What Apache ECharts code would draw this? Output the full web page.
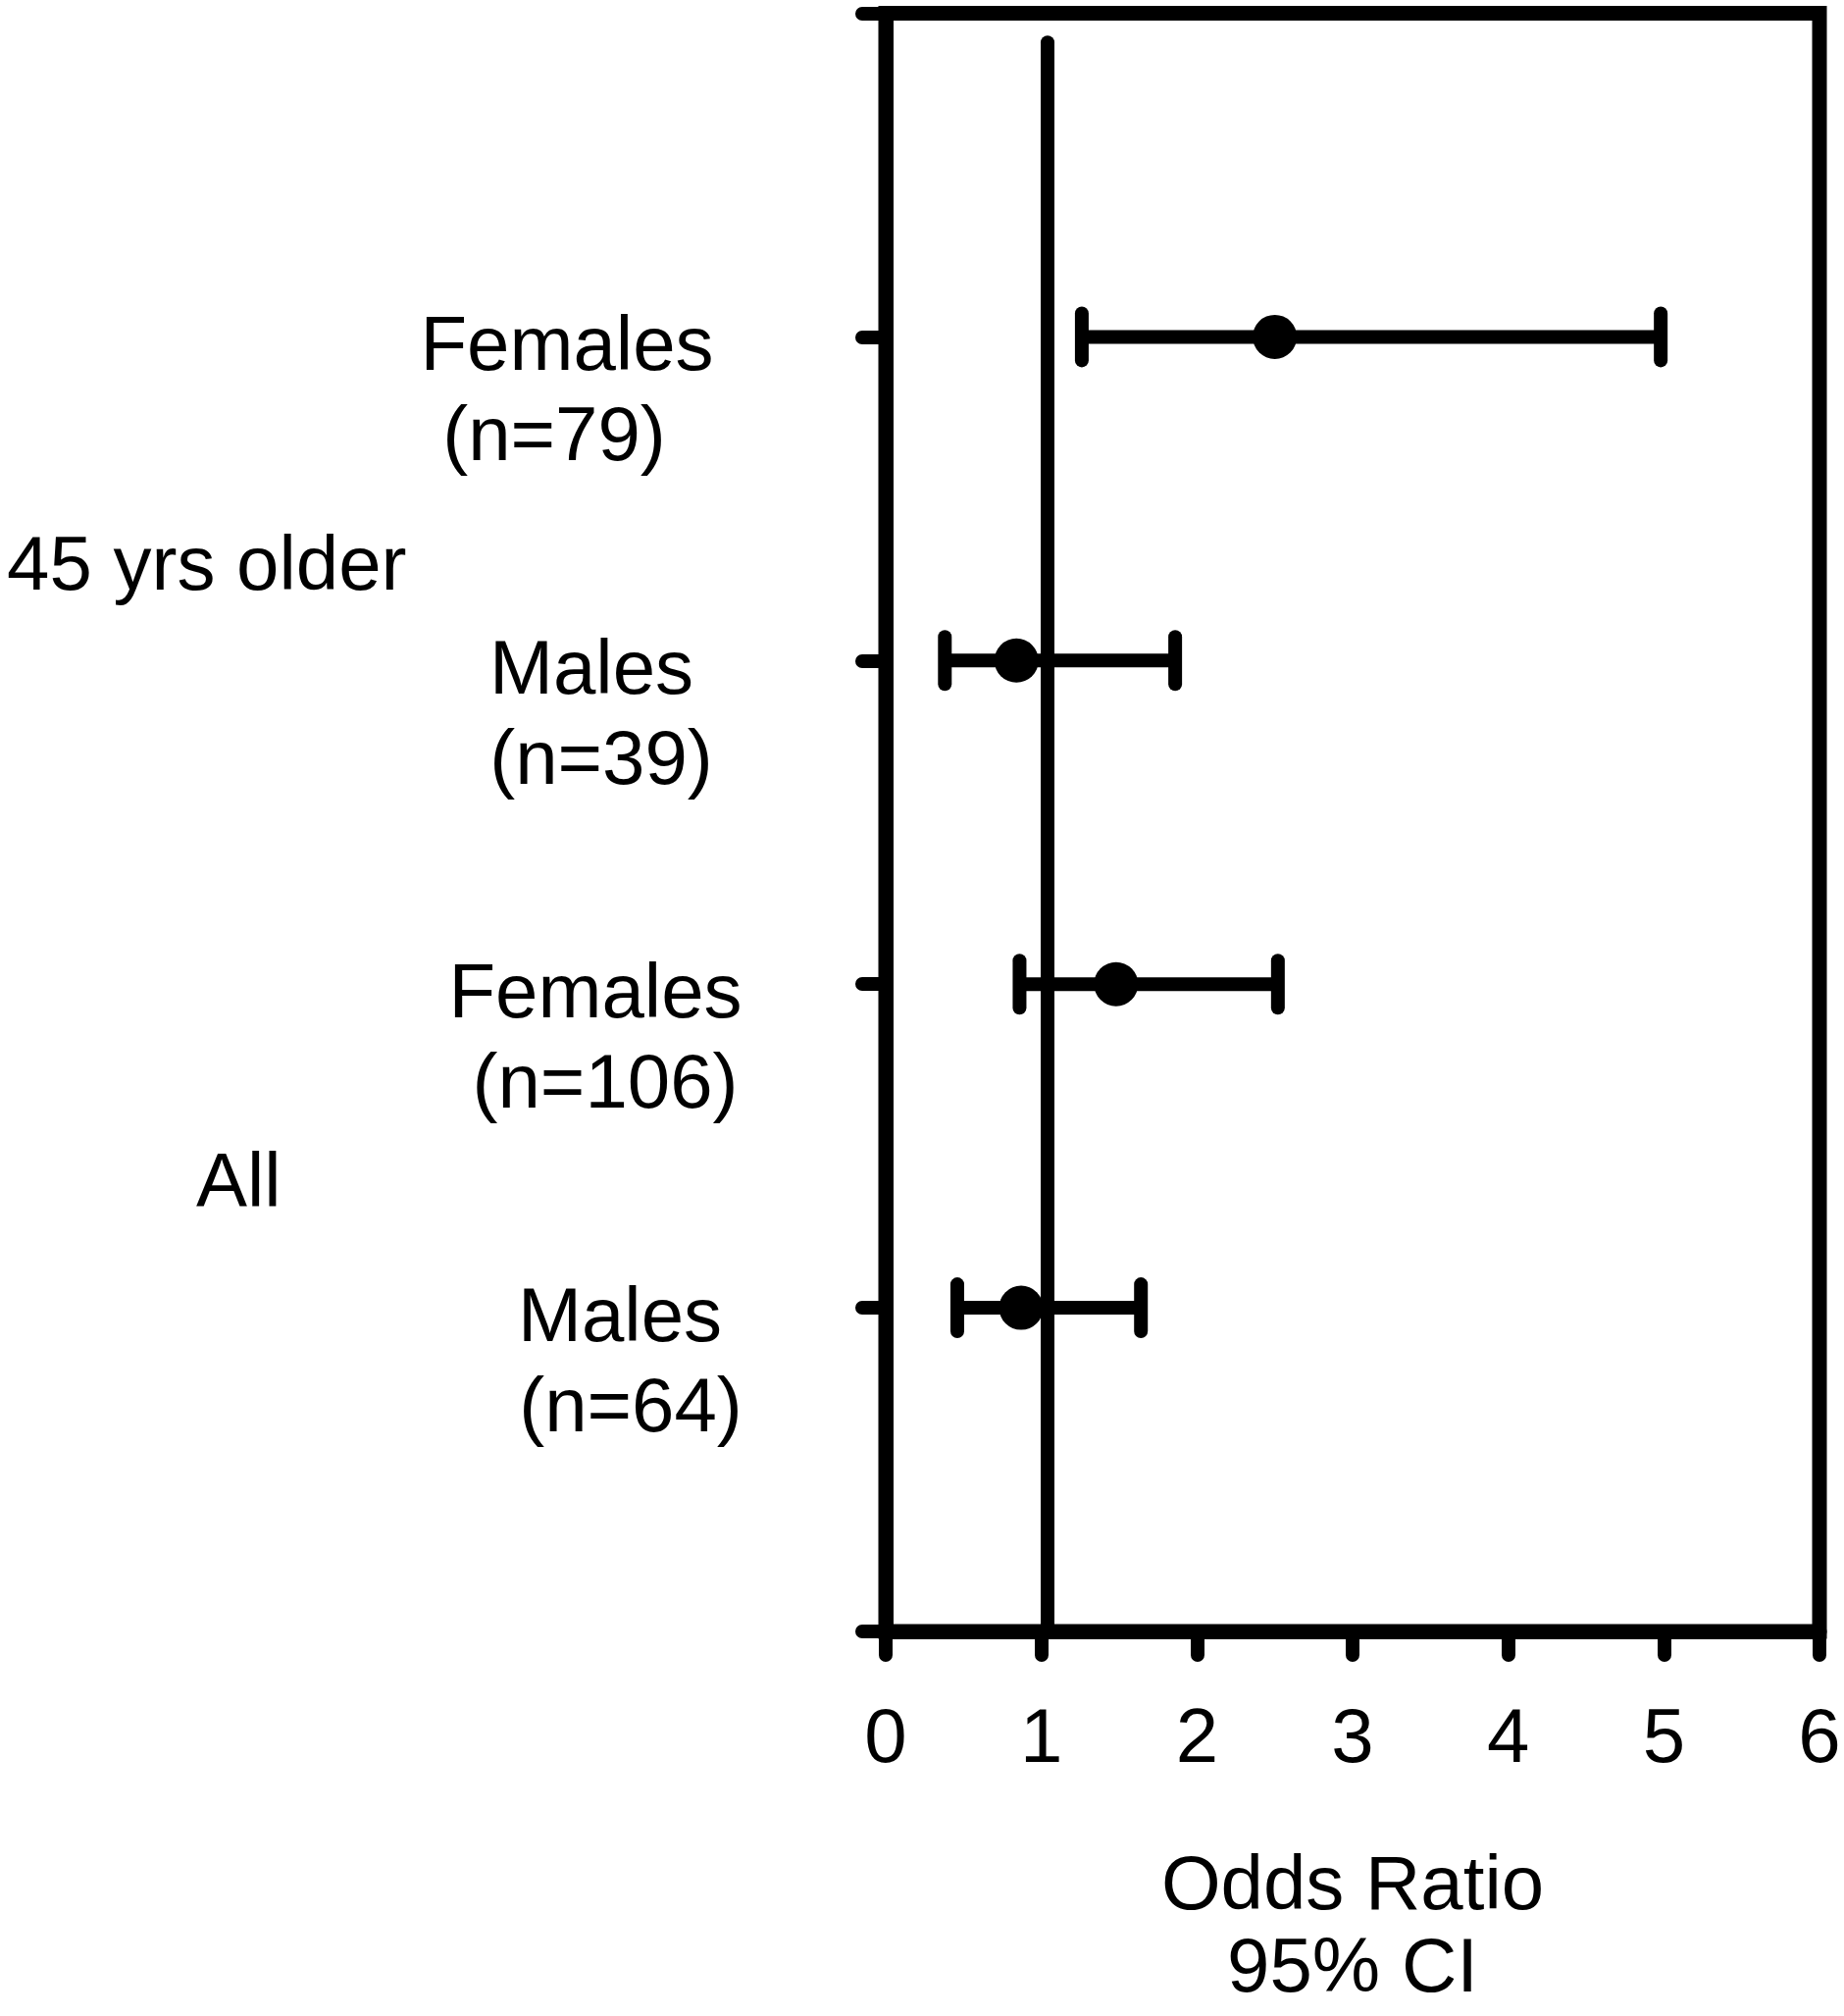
<!DOCTYPE html>
<html>
<head>
<meta charset="utf-8">
<script src="https://cdn.jsdelivr.net/npm/echarts@6/dist/echarts.min.js"></script>
<style>
  html, body { margin: 0; padding: 0; background: #fff; }
  #chart { width: 1880px; height: 2055px; }
</style>
</head>
<body>
<div id="chart"></div>
<script>
// rows from bottom (y = 1) to top (y = 4)
const groups = ['Males', 'Females', 'Males', 'Females']
const sampleSizes = ['(n=64)', '(n=106)', '(n=39)', '(n=79)']
const rowPos = [1, 2, 3, 4]
const oddsRatio = [0.87, 1.48, 0.84, 2.50]
const ciLow = [0.46, 0.86, 0.38, 1.26]
const ciHigh = [1.64, 2.52, 1.86, 4.98]
const xTicks = [0, 1, 2, 3, 4, 5, 6]
const groupLabels = ['45 yrs older', 'All']
const refLine = [[1.04, 0], [1.04, 4.91]]

const FONT = "'Liberation Sans', Arial, sans-serif"
const FS = 78
const LW = 14

// small horizontal nudges of the row labels (per line), as in the original figure
const labelShift = [[67, 78], [42, 52], [38, 48], [13, 0]]

const rich = {}
rowPos.forEach((p, i) => {
  rich['a' + i] = { fontSize: FS, fontFamily: FONT, color: '#000', lineHeight: 92, padding: [0, 0, 0, labelShift[i][0] * 2] }
  rich['b' + i] = { fontSize: FS, fontFamily: FONT, color: '#000', lineHeight: 92, padding: [0, 0, 0, labelShift[i][1] * 2] }
})

function renderItem(params, api) {
  const lo = api.coord([api.value(0), api.value(2)])
  const hi = api.coord([api.value(1), api.value(2)])
  const cap = 24
  const st = { stroke: '#000', lineWidth: LW, lineCap: 'round' }
  return {
    type: 'group',
    children: [
      { type: 'line', shape: { x1: lo[0], y1: lo[1], x2: hi[0], y2: hi[1] }, style: { stroke: '#000', lineWidth: LW } },
      { type: 'line', shape: { x1: lo[0], y1: lo[1] - cap, x2: lo[0], y2: lo[1] + cap }, style: st },
      { type: 'line', shape: { x1: hi[0], y1: hi[1] - cap, x2: hi[0], y2: hi[1] + cap }, style: st }
    ]
  }
}

const chart = echarts.init(document.getElementById('chart'))

chart.setOption({
  animation: false,
  backgroundColor: '#fff',
  textStyle: { fontFamily: FONT, color: '#000' },
  grid: {
    left: 903, right: 25, top: 13.5, bottom: 377.5,
    show: true, borderColor: '#000', borderWidth: 15, backgroundColor: 'transparent'
  },
  xAxis: {
    type: 'value',
    min: xTicks[0], max: xTicks[xTicks.length - 1], interval: 1,
    splitLine: { show: false },
    axisLine: { show: true, onZero: false, lineStyle: { color: '#000', width: 15 } },
    axisTick: { show: true, inside: false, length: 24, lineStyle: { color: '#000', width: LW, cap: 'round' } },
    axisLabel: { fontSize: FS, fontFamily: FONT, color: '#000', margin: 72 },
    name: 'Odds Ratio\n95% CI',
    nameLocation: 'middle',
    nameGap: 219,
    nameTextStyle: { fontSize: FS, fontFamily: FONT, color: '#000', lineHeight: 84 }
  },
  yAxis: {
    type: 'value',
    min: 0, max: 5, interval: 1,
    splitLine: { show: false },
    axisLine: { show: true, onZero: false, lineStyle: { color: '#000', width: 15 } },
    axisTick: { show: true, inside: false, length: 24, lineStyle: { color: '#000', width: LW, cap: 'round' } },
    axisLabel: {
      align: 'center',
      margin: 338,
      padding: [116, 0, 0, 0],
      rich: rich,
      formatter: (v) => {
        const i = rowPos.indexOf(v)
        if (i < 0) return ''
        return '{a' + i + '|' + groups[i] + '}\n{b' + i + '|' + sampleSizes[i] + '}'
      }
    }
  },
  graphic: [
    { type: 'text', left: 7, top: 572 - 32, style: { text: groupLabels[0], font: FS + 'px ' + FONT, fill: '#000' } },
    { type: 'text', left: 200, top: 1201 - 32, style: { text: groupLabels[1], font: FS + 'px ' + FONT, fill: '#000' } }
  ],
  series: [
    {
      type: 'line',
      data: refLine,
      symbol: 'none',
      lineStyle: { color: '#000', width: LW, cap: 'round' },
      z: 1,
      silent: true
    },
    {
      type: 'custom',
      renderItem: renderItem,
      encode: { x: [0, 1], y: 2 },
      data: rowPos.map((p, i) => [ciLow[i], ciHigh[i], p]),
      z: 2,
      silent: true
    },
    {
      type: 'scatter',
      data: rowPos.map((p, i) => [oddsRatio[i], p]),
      symbol: 'circle',
      symbolSize: 45,
      itemStyle: { color: '#000', opacity: 1 },
      z: 3,
      silent: true
    }
  ]
})
</script>
</body>
</html>
